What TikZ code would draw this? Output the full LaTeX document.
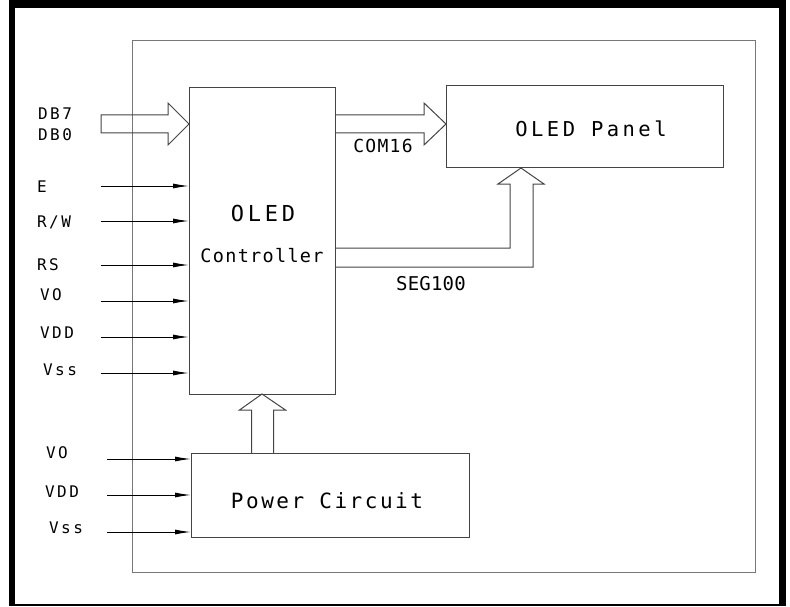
\documentclass[tikz,border=0pt]{standalone}
\usepackage{fontspec}
\usetikzlibrary{arrows.meta,calc}
\newfontfamily\cadA[LetterSpace=15]{DejaVu Sans Mono}
\newfontfamily\cadB[LetterSpace=17]{DejaVu Sans Mono}
\newfontfamily\cadC[LetterSpace=7]{DejaVu Sans Mono}
\newfontfamily\cadD[LetterSpace=12]{DejaVu Sans Mono}
\newfontfamily\cadE[LetterSpace=1]{DejaVu Sans Mono}
\definecolor{framec}{HTML}{777777}
\definecolor{boxc}{HTML}{444444}
\begin{document}
\begin{tikzpicture}[x=1pt,y=-1pt,
  box/.style={draw=boxc, line width=1pt, inner sep=0pt, outer sep=0pt},
  fat/.style={draw=boxc, line width=1pt, line join=miter},
  sig/.style={draw=black, line width=1pt, -{Latex[length=16pt,width=5pt]}},
  lbl/.style={anchor=base west, inner sep=0pt, font=\cadA\fontsize{16pt}{16pt}\selectfont},
  txt/.style={anchor=base, inner sep=0pt}]
\useasboundingbox (0,0) rectangle (790,607);
% outer border
\fill[black] (9,0) rectangle (15,606);
\fill[black] (9,0) rectangle (786,8);
\fill[black] (779,0) rectangle (786,606);
\fill[black] (9,604) rectangle (786,606);
% module frame
\node[draw=framec, line width=1pt, inner sep=0pt, minimum width=623pt, minimum height=532pt] (frame) at (444.4,306.2) {};
% blocks
\node[box, minimum width=146pt, minimum height=306pt] (ctrl) at (262,241) {};
\node[box, minimum width=277pt, minimum height=82pt] (panel) at (584.5,127) {};
\node[box, minimum width=278pt, minimum height=84pt] (power) at (330,495) {};
% block texts
\node[txt, font=\cadB\fontsize{22pt}{22pt}\selectfont] (tOLED) at (263,222) {OLED};
\node[txt, font=\cadC\fontsize{18.5pt}{18.5pt}\selectfont] (tCtrl) at (262,262) {Controller};
\node[txt, font=\cadB\fontsize{20.5pt}{20.5pt}\selectfont] (tPanel) at (591,137) {OLED Panel};
\node[txt, font=\cadD\fontsize{21pt}{21pt}\selectfont] (tPower) at (327,508) {Power Circuit};
\node[txt, font=\cadC\fontsize{18pt}{18pt}\selectfont] (tCOM) at (383,153) {COM16};
\node[txt, font=\cadE\fontsize{19pt}{19pt}\selectfont] (tSEG) at (431,290) {SEG100};
% fat arrows
\coordinate (dbc) at (101,124);
\draw[fat] (101,115) -- (168,115) -- (168,103) -- (ctrl.west |- dbc) -- (168,145) -- (168,133) -- (101,133) -- cycle;
\draw[fat] (335,115) -- (424,115) -- (424,103) -- (panel.west |- dbc) -- (424,145) -- (424,133) -- (335,133);
\coordinate (segtip) at (521,168);
\draw[fat] (335,248) -- (510,248) -- (510,184) -- (498,184) -- (panel.south -| segtip) -- (544,184) -- (533,184) -- (533,267) -- (335,267);
\draw[fat] (251.5,453) -- (251.5,410) -- (239.5,410) -- (ctrl.south) -- (285.5,410) -- (273.5,410) -- (273.5,453);
% controller signal inputs
\coordinate (inE) at (101,186);
\coordinate (inRW) at (101,221);
\coordinate (inRS) at (101,265);
\coordinate (inVO) at (101,301);
\coordinate (inVDD) at (101,337);
\coordinate (inVss) at (101,373);
\foreach \c in {inE,inRW,inRS,inVO,inVDD,inVss}
  \draw[sig] (\c) -- (ctrl.west |- \c);
% power inputs
\coordinate (pVO) at (107,459);
\coordinate (pVDD) at (107,495);
\coordinate (pVss) at (107,532);
\foreach \c in {pVO,pVDD,pVss}
  \draw[sig] (\c) -- (power.west |- \c);
% labels
\node[lbl] (lDB7) at (38,119.5) {DB7};
\node[lbl] (lDB0) at (38,141) {DB0};
\node[lbl] (lE) at (37,193) {E};
\node[lbl] (lRW) at (37,227) {R/W};
\node[lbl] (lRS) at (37,270) {RS};
\node[lbl] (lVO) at (40,300) {VO};
\node[lbl] (lVDD) at (40,338) {VDD};
\node[lbl] (lVss) at (43,375) {Vss};
\node[lbl] (lpVO) at (46,458) {VO};
\node[lbl] (lpVDD) at (45,497) {VDD};
\node[lbl] (lpVss) at (49,533) {Vss};
\end{tikzpicture}
\end{document}
